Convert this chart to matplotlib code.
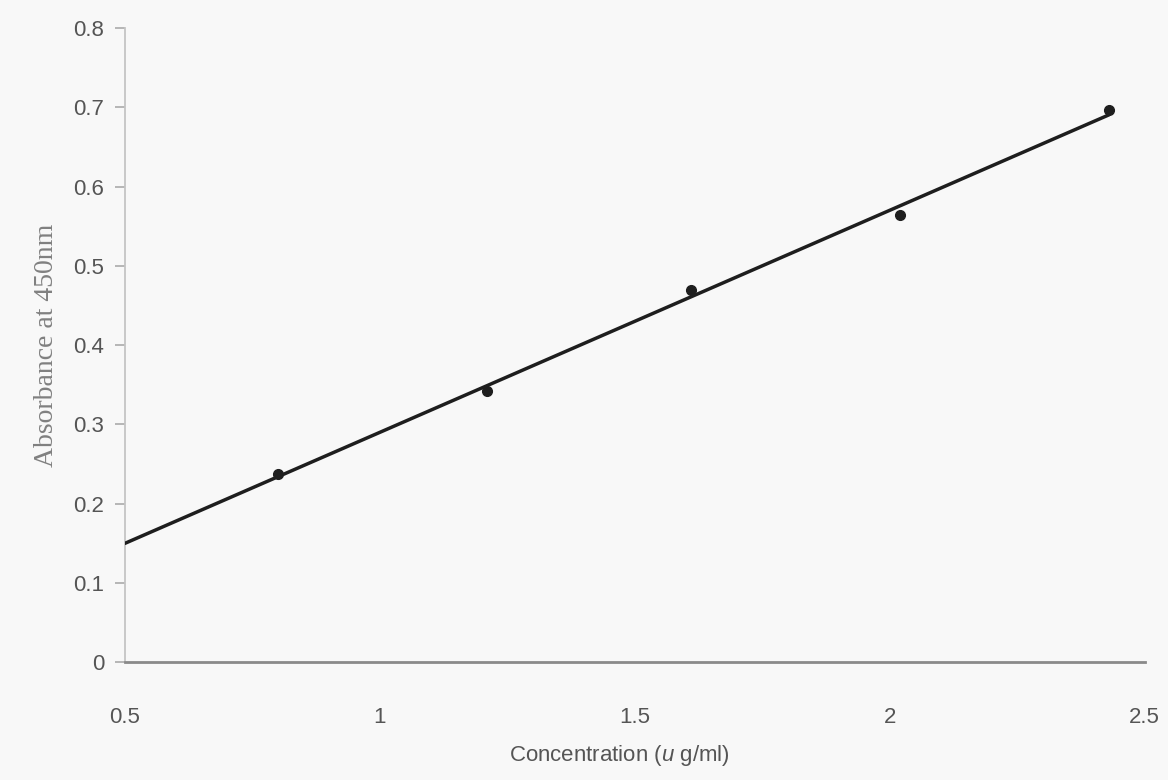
import matplotlib
matplotlib.use("Agg")
import matplotlib.pyplot as plt
import numpy as np

# Data
concentration = [0.80, 1.21, 1.61, 2.02, 2.43]
absorbance = [0.238, 0.342, 0.469, 0.564, 0.697]
x_ticks = [0.5, 1, 1.5, 2, 2.5]
x_tick_labels = ["0.5", "1", "1.5", "2", "2.5"]
y_ticks = [0, 0.1, 0.2, 0.3, 0.4, 0.5, 0.6, 0.7, 0.8]
y_tick_labels = ["0", "0.1", "0.2", "0.3", "0.4", "0.5", "0.6", "0.7", "0.8"]

plt.rcParams['font.family'] = ['Liberation Sans', 'DejaVu Sans']
plt.rcParams['mathtext.fontset'] = 'custom'
plt.rcParams['mathtext.it'] = 'Liberation Sans:italic'
plt.rcParams['mathtext.rm'] = 'Liberation Sans'

bg = '#f8f8f8'
fig = plt.figure(figsize=(11.68, 7.8), dpi=100, facecolor=bg)
ax = fig.add_axes([0.107, 0.151, 0.873, 0.813], facecolor=bg)

# Linear trendline fitted through the points
slope, intercept = np.polyfit(concentration, absorbance, 1)
xl = np.array([0.5, max(concentration)])
ax.plot(xl, slope * xl + intercept, color='#1e1e1e', lw=2.5, solid_capstyle='round', zorder=3)
ax.plot(concentration, absorbance, 'o', color='#1e1e1e', ms=7, zorder=4)

ax.set_xlim(0.5, 2.5)
ax.set_ylim(0, 0.8)
ax.set_xticks(x_ticks)
ax.set_xticklabels(x_tick_labels)
ax.set_yticks(y_ticks)
ax.set_yticklabels(y_tick_labels)

for s in ['top', 'right']:
    ax.spines[s].set_visible(False)
ax.spines['left'].set_color('#c4c4c4')
ax.spines['left'].set_linewidth(1.3)
ax.spines['bottom'].set_color('#8a8a8a')
ax.spines['bottom'].set_linewidth(2.0)

ax.tick_params(axis='y', length=7, width=1.3, color='#b0b0b0', labelcolor='#555555',
               labelsize=16, pad=8)
ax.tick_params(axis='x', length=0, labelcolor='#555555', labelsize=16, pad=32)

ax.set_xlabel(r'Concentration ($\mathit{u}$ g/ml)', fontsize=16, color='#555555', labelpad=5)
ax.xaxis.set_label_coords(0.485, -0.128)
ax.set_ylabel('Absorbance at 450nm', family=['Liberation Serif', 'DejaVu Serif'],
              fontsize=20, color='#808080', labelpad=10)

fig.savefig('out.png', dpi=100, facecolor=bg)
